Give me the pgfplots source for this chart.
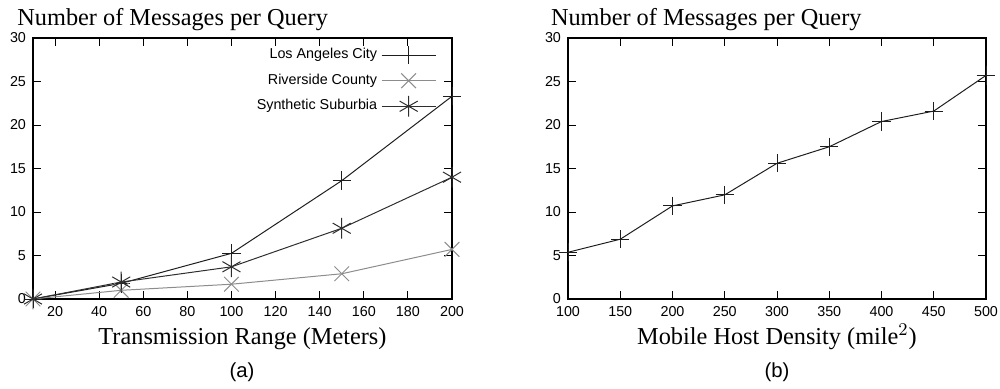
\documentclass[border=0pt]{standalone}
\usepackage{fontspec}
\setmainfont{Liberation Serif}
\setsansfont{Liberation Sans}
\usepackage{pgfplots}
\pgfplotsset{compat=1.18}
\definecolor{cA}{HTML}{1E1E1E}
\definecolor{cB}{HTML}{8C8C8C}
\definecolor{cC}{HTML}{2E2E2E}
\pgfplotsset{
  gp/.style={
    scale only axis,
    height=130.5bp,
    ymin=0, ymax=30,
    ytick={0,5,...,30},
    tick align=inside,
    major tick length=4bp,
    axis line style={line width=0.6pt},
    tick style={line width=0.5pt, black},
    tick label style={font=\sffamily\fontsize{7.2}{8}\selectfont},
    /pgf/number format/assume math mode=true,
    xlabel style={font=\fontsize{12.2}{14}\selectfont, at={(axis description cs:0.5,0)}, anchor=base, yshift=-22.5bp},
    clip=false,
    every axis plot/.append style={line width=0.5pt},
    mark size=4.6bp,
  }
}
\begin{document}
\begin{tikzpicture}
\useasboundingbox (0,0) rectangle (500bp,-194.5bp);
\begin{axis}[gp,
  at={(16.5bp,-149.5bp)}, anchor=south west,
  width=209.5bp,
  xmin=10, xmax=200,
  xtick={20,40,...,200},
  xlabel={Transmission Range (Meters)},
  legend cell align=right,
  legend plot pos=right,
  legend style={draw=none, fill=none, at={(axis cs:193,29.3)}, anchor=north east,
    font=\sffamily\fontsize{7.2}{8}\selectfont, row sep=2.1bp, inner sep=0pt},
  legend image code/.code={\draw[mark repeat=2,mark phase=2] plot coordinates {(0bp,0bp) (13.5bp,0bp) (27bp,0bp)};},
]
\addplot[cA, mark=+] coordinates {(10,0) (50,1.8) (100,5.25) (150,13.6) (200,23.3)};
\addlegendentry{Los Angeles City}
\addplot[cB, mark=x, mark size=5.2bp] coordinates {(10,0) (50,1.0) (100,1.7) (150,2.9) (200,5.7)};
\addlegendentry{Riverside County}
\addplot[cC, mark=asterisk, mark size=5.2bp] coordinates {(10,0) (50,1.95) (100,3.7) (150,8.13) (200,14.0)};
\addlegendentry{Synthetic Suburbia}
\end{axis}
\begin{axis}[gp,
  at={(284bp,-149.5bp)}, anchor=south west,
  width=209bp,
  xmin=100, xmax=500,
  xtick={100,150,...,500},
  xlabel={Mobile Host Density (mile$^2$)},
]
\addplot[cA, mark=+] coordinates {(100,5.37) (150,6.87) (200,10.7) (250,11.97) (300,15.6) (350,17.5) (400,20.4) (450,21.6) (500,25.7)};
\end{axis}
\node[anchor=base west, font=\fontsize{12.2}{14}\selectfont, inner sep=0pt] at (8.5bp,-12.5bp) {Number of Messages per Query};
\node[anchor=base west, font=\fontsize{12.2}{14}\selectfont, inner sep=0pt] at (275.3bp,-12.5bp) {Number of Messages per Query};
\node[anchor=base, font=\sffamily\fontsize{10.2}{12}\selectfont, inner sep=0pt] at (121bp,-188.5bp) {(a)};
\node[anchor=base, font=\sffamily\fontsize{10.2}{12}\selectfont, inner sep=0pt] at (388.5bp,-188.5bp) {(b)};
\end{tikzpicture}
\end{document}
